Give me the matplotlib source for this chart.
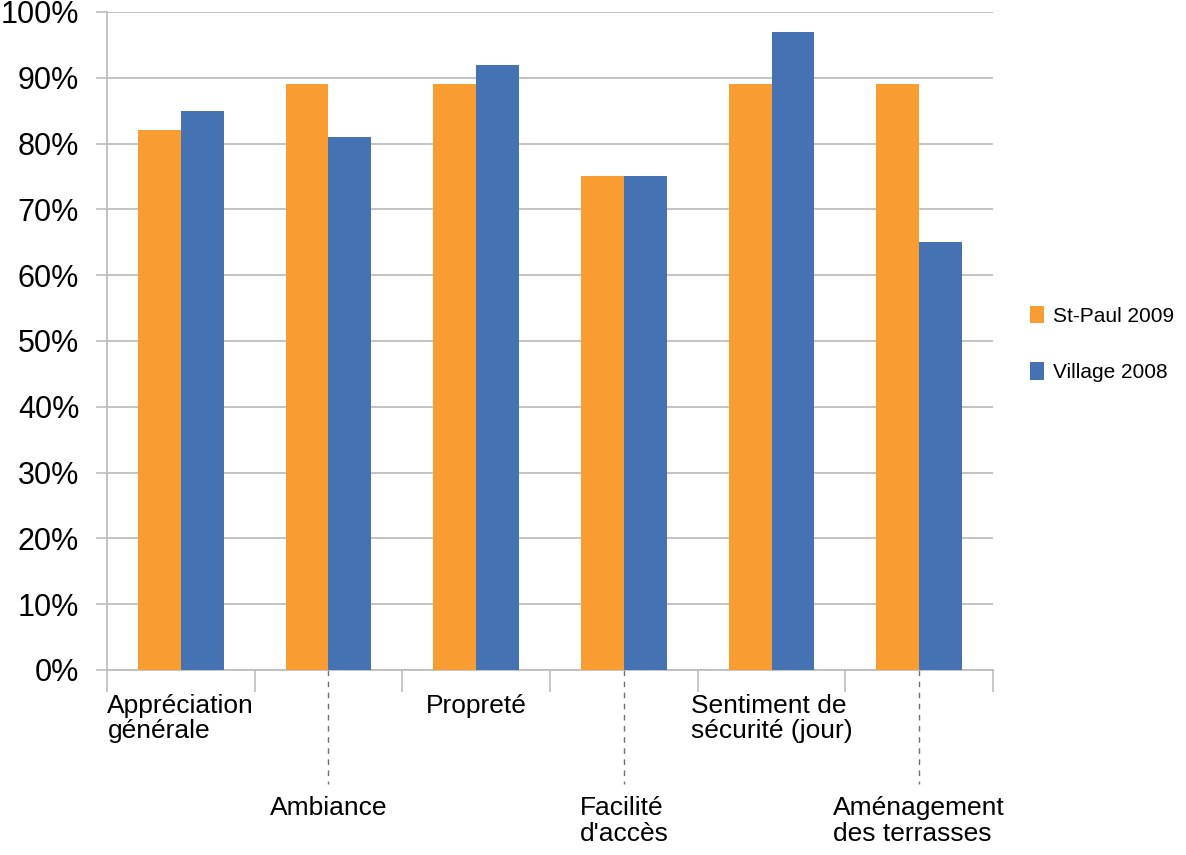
import numpy as np
import matplotlib
matplotlib.use('Agg')
import matplotlib.pyplot as plt
import matplotlib.transforms as mtransforms
from matplotlib.ticker import FuncFormatter

plt.rcParams['font.family'] = ['Liberation Sans', 'DejaVu Sans']

categories = ['Appréciation\ngénérale', 'Ambiance', 'Propreté', "Facilité\nd'accès",
              'Sentiment de\nsécurité (jour)', 'Aménagement\ndes terrasses']
st_paul_2009 = [82, 89, 89, 75, 89, 89]
village_2008 = [85, 81, 92, 75, 97, 65]
series_names = ['St-Paul 2009', 'Village 2008']

orange = '#F99D32'
blue = '#4572B2'
grid_col = '#BEBEBE'

fig = plt.figure(figsize=(11.86, 8.55), dpi=100)
ax = fig.add_axes([0.0902, 0.2164, 0.7471, 0.7696])

x = np.arange(len(categories))
width = 0.29
ax.bar(x - width / 2, st_paul_2009, width, color=orange, label=series_names[0], zorder=3)
ax.bar(x + width / 2, village_2008, width, color=blue, label=series_names[1], zorder=3)

ax.set_xlim(-0.5, len(categories) - 0.5)
ax.set_ylim(0, 100)
ax.set_yticks(np.arange(0, 101, 10))
ax.yaxis.set_major_formatter(FuncFormatter(lambda v, p: f'{int(v)}%'))
ax.tick_params(axis='y', labelsize=22, length=8, width=1.2, color=grid_col, pad=12)
ax.grid(axis='y', color=grid_col, linewidth=1.3, zorder=0)

for s in ['top', 'right']:
    ax.spines[s].set_visible(False)
for s in ['left', 'bottom']:
    ax.spines[s].set_color(grid_col)
    ax.spines[s].set_linewidth(1.3)

# category boundaries as minor ticks, labels on major ticks
ax.set_xticks(np.arange(-0.5, len(categories), 1.0), minor=True)
ax.set_xticks(x)
ax.set_xticklabels(categories, fontsize=19, linespacing=1.1)
ax.tick_params(axis='x', which='minor', length=16, width=1.2, color=grid_col)
ax.tick_params(axis='x', which='major', length=0, pad=17)
for i, t in enumerate(ax.xaxis.get_major_ticks()):
    t.label1.set_multialignment('left')
    if i % 2 == 1:
        t.set_pad(91)

# dashed leaders for the staggered labels
trans = mtransforms.blended_transform_factory(ax.transData, ax.transAxes)
for i in x[1::2]:
    ax.plot([i, i], [0, -0.173], transform=trans, color='#707070', linestyle=(0, (4, 4)),
            linewidth=1.0, clip_on=False)

ax.legend(loc='center left', bbox_to_anchor=(1.02, 0.495), frameon=False, fontsize=15,
          handlelength=0.7, handleheight=0.9, handletextpad=0.45, labelspacing=1.75)

fig.savefig('out.png', dpi=100)
